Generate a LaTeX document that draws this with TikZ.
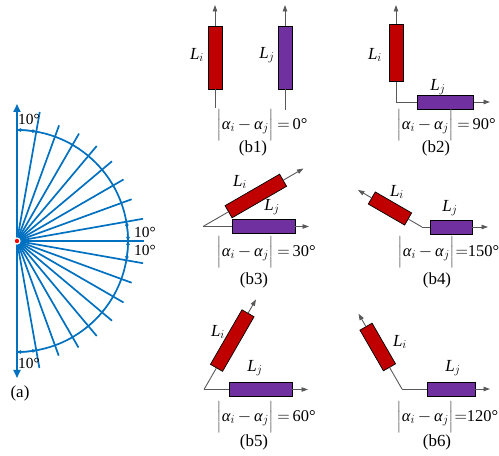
\documentclass[tikz,border=0pt]{standalone}
\usepackage{amsmath}
\usepackage{fontspec}
\setmainfont{Liberation Serif}
\usepackage{tikz}
\usetikzlibrary{arrows.meta,positioning,calc}
\definecolor{axblue}{RGB}{0,112,192}
\definecolor{barred}{RGB}{192,0,0}
\definecolor{barpurple}{RGB}{112,48,160}
\definecolor{vecgray}{RGB}{89,89,89}
\newcommand{\galpha}{\text{\itshape α}}
\newcommand{\Lsym}[1]{$\text{\itshape L}_{#1}$}
\newcommand{\angdiff}[2][\,]{${\color{vecgray}\Bigl|}\galpha_i\mkern3mu{-}\mkern3mu\galpha_j{\color{vecgray}\Bigr|}#1{=}#1\text{#2°}$}

\begin{document}
\begin{tikzpicture}[x=1bp,y=1bp,
  ray/.style={axblue,line width=1.7bp},
  angmark/.style={axblue,line width=1.2bp,{Triangle[length=4bp,width=3.5bp]}-{Triangle[length=4bp,width=3.5bp]}},
  alab/.style={font=\fontsize{15.5}{17}\selectfont,inner sep=0pt},
  blab/.style={font=\fontsize{17}{19}\selectfont,inner sep=0pt},
  flab/.style={font=\fontsize{16.5}{18.5}\selectfont,inner sep=0pt,anchor=west},
  vec/.style={vecgray,line width=0.9bp},
  tip/.style={-{Triangle[length=6.5bp,width=4.5bp]}},
  redbar/.style={draw=black,line width=0.7bp,fill=barred,inner sep=0pt,minimum height=14bp,minimum width=#1bp},
  purbar/.style={draw=black,line width=0.7bp,fill=barpurple,inner sep=0pt,minimum height=14bp,minimum width=#1bp}]
 \useasboundingbox (0,0) rectangle (499,456);
 % (a)
 \coordinate (c) at (17,215);
 \coordinate (top) at (17,352);
 \coordinate (bot) at (17,78);
 \draw[ray,{Triangle[length=8bp,width=7bp]}-{Triangle[length=8bp,width=7bp]}] (bot) -- (top);
 \draw[ray] ($(c)+(-90:111)$) arc[start angle=-90,end angle=90,radius=111];
 \foreach \a/\r in {-80/129,-70/122,-60/123,-50/124,-40/124,-30/123,-20/122,-10/128,0/127,
                    10/128,20/122,30/123,40/124,50/124,60/124,70/123,80/131}
   {\draw[ray] (c) -- ++(\a:\r);}
 \draw[angmark] ($(c)+(90:111)$) arc[start angle=90,end angle=80,radius=111];
 \draw[angmark] ($(c)+(10:111)$) arc[start angle=10,end angle=0,radius=111];
 \draw[angmark] ($(c)+(0:111)$) arc[start angle=0,end angle=-10,radius=111];
 \draw[angmark] ($(c)+(-90:111)$) arc[start angle=-90,end angle=-80,radius=111];
 \node[circle,fill=red,draw=white,line width=1.2bp,inner sep=0pt,minimum size=6bp] (dot) at (c) {};
 \node[alab] (d1) at (29,337) {10°};
 \node[alab] (d2) at (145,224) {10°};
 \node[alab] (d3) at (145,206) {10°};
 \node[alab] (d4) at (29,93) {10°};
 \node[blab] (cap-a) at (20,63) {(a)};
 % (b1)
 \node[redbar=63,rotate=90] (ri1) at (215,398.5) {};
 \coordinate (o1) at (215,348); \coordinate (t1) at (215,451);
 \draw[vec] (o1) -- (ri1.west); \draw[vec,tip] (ri1.east) -- (t1);
 \node[purbar=63,rotate=90] (pj1) at (285,398.5) {};
 \coordinate (q1) at (285,346); \coordinate (u1) at (285,451);
 \draw[vec] (q1) -- (pj1.west); \draw[vec,tip] (pj1.east) -- (u1);
 \node[blab] (li1) at (197,401) {\Lsym{i}};
 \node[blab] (lj1) at (267,401) {\Lsym{j}};
 \node[flab] (f1) at (216,331) {\angdiff{0}};
 \node[blab] (cap-b1) at (253,308) {(b1)};
 % (b2)
 \coordinate (o2) at (396,354);
 \node[redbar=57,rotate=90] (ri2) at (396,403) {};
 \node[purbar=56,right=21bp of o2,anchor=west] (pj2) {};
 \coordinate (t2) at (396,451); \coordinate (u2) at (490,354);
 \draw[vec] (ri2.west) -- (o2) -- (pj2.west);
 \draw[vec,tip] (ri2.east) -- (t2); \draw[vec,tip] (pj2.east) -- (u2);
 \node[blab] (li2) at (375,401) {\Lsym{i}};
 \node[blab] (lj2) at (438,369) {\Lsym{j}};
 \node[flab] (f2) at (396,331) {\angdiff{90}};
 \node[blab] (cap-b2) at (436,308) {(b2)};
 % (b3)
 \coordinate (o3) at (203,229.5);
 \node[purbar=63] (pj3) at (263.5,229.5) {};
 \node[redbar=63,rotate=30] (ri3) at ($(o3)+(30:61)$) {};
 \coordinate (t3) at ($(o3)+(30:116)$); \coordinate (u3) at (309,229.5);
 \draw[vec] (o3) -- (pj3.west); \draw[vec,tip] (pj3.east) -- (u3);
 \draw[vec] (o3) -- (ri3.west); \draw[vec,tip] (ri3.east) -- (t3);
 \node[blab] (li3) at (240,274) {\Lsym{i}};
 \node[blab] (lj3) at (272,249) {\Lsym{j}};
 \node[flab] (f3) at (216,204) {\angdiff{30}};
 \node[blab] (cap-b3) at (254,176) {(b3)};
 % (b4)
 \coordinate (o4) at (422,229);
 \node[purbar=42] (pj4) at (451,229) {};
 \node[redbar=42,rotate=150] (ri4) at ($(o4)+(150:37)$) {};
 \coordinate (t4) at ($(o4)+(150:74)$); \coordinate (u4) at (488,229);
 \draw[vec] (o4) -- (pj4.west); \draw[vec,tip] (pj4.east) -- (u4);
 \draw[vec] (o4) -- (ri4.west); \draw[vec,tip] (ri4.east) -- (t4);
 \node[blab] (li4) at (397,264) {\Lsym{i}};
 \node[blab] (lj4) at (450,248) {\Lsym{j}};
 \node[flab] (f4) at (397,204) {\angdiff[]{150}};
 \node[blab] (cap-b4) at (437,176) {(b4)};
 % (b5)
 \coordinate (o5) at (204,66.5);
 \node[purbar=63] (pj5) at (260.5,66.5) {};
 \node[redbar=63,rotate=60] (ri5) at ($(o5)+(60:56.5)$) {};
 \coordinate (t5) at ($(o5)+(60:104)$); \coordinate (u5) at (308,66.5);
 \draw[vec] (o5) -- (pj5.west); \draw[vec,tip] (pj5.east) -- (u5);
 \draw[vec] (o5) -- (ri5.west); \draw[vec,tip] (ri5.east) -- (t5);
 \node[blab] (li5) at (218,124) {\Lsym{i}};
 \node[blab] (lj5) at (255,88) {\Lsym{j}};
 \node[flab] (f5) at (216,39) {\angdiff{60}};
 \node[blab] (cap-b5) at (254,14) {(b5)};
 % (b6)
 \coordinate (o6) at (402,67);
 \node[purbar=48] (pj6) at (451,67) {};
 \node[redbar=47,rotate=120] (ri6) at ($(o6)+(120:48.5)$) {};
 \coordinate (t6) at ($(o6)+(120:87)$); \coordinate (u6) at (490,67);
 \draw[vec] (o6) -- (pj6.west); \draw[vec,tip] (pj6.east) -- (u6);
 \draw[vec] (o6) -- (ri6.west); \draw[vec,tip] (ri6.east) -- (t6);
 \node[blab] (li6) at (400,114) {\Lsym{i}};
 \node[blab] (lj6) at (453,88) {\Lsym{j}};
 \node[flab] (f6) at (396,39) {\angdiff[]{120}};
 \node[blab] (cap-b6) at (437,14) {(b6)};
\end{tikzpicture}
\end{document}
